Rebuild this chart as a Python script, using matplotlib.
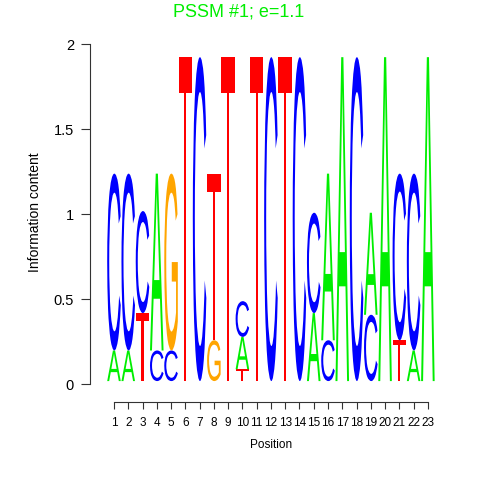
import matplotlib
matplotlib.use('Agg')
import matplotlib.pyplot as plt
import numpy as np
from matplotlib.textpath import TextPath
from matplotlib.font_manager import FontProperties
from matplotlib.patches import PathPatch
from matplotlib.transforms import Affine2D

positions = list(range(1, 24))
A = [0.18, 0.18, 0, 1.04, 0, 0, 0, 0, 0, 0.19, 0, 0, 0, 0, 0.40, 0.98, 1.905, 0, 0.60, 1.905, 0, 0.18, 1.905]
C = [1.04, 1.04, 0.60, 0.18, 0.18, 0, 1.905, 0, 0, 0.21, 0, 1.905, 0, 1.905, 0.59, 0.24, 0, 1.905, 0.39, 0, 0.98, 1.04, 0]
G = [0, 0, 0, 0, 1.04, 0, 0, 0.24, 0, 0, 0, 0, 0, 0, 0, 0, 0, 0, 0, 0, 0, 0, 0]
T = [0, 0, 0.40, 0, 0, 1.905, 0, 0.98, 1.905, 0.07, 1.905, 0, 1.905, 0, 0, 0, 0, 0, 0, 0, 0.24, 0, 0]
ytick_vals = [0, 0.5, 1, 1.5, 2]
ytick_labels = ['0', '0.5', '1', '1.5', '2']

colors = {'A': '#00EE00', 'C': '#0000FF', 'G': '#FFA500', 'T': '#FF0000'}
heights = {'A': A, 'C': C, 'G': G, 'T': T}

font = FontProperties(family='Liberation Sans')
base = 0.02
letter_w = 0.95


def draw_letter(ax, ch, x, y0, h):
    tp = TextPath((0, 0), ch, size=1, prop=font)
    bb = tp.get_extents()
    tr = (Affine2D()
          .translate(-bb.x0, -bb.y0)
          .scale(letter_w / bb.width, h / bb.height)
          .translate(x - letter_w / 2, y0))
    ax.add_patch(PathPatch(tr.transform_path(tp), facecolor=colors[ch],
                           edgecolor='none', lw=0))


plt.rcParams['font.family'] = ['Liberation Sans', 'DejaVu Sans']
fig = plt.figure(figsize=(4.8, 4.8), dpi=100)
ax = fig.add_axes([90 / 480, 78 / 480, 350 / 480, 362 / 480])

for i, pos in enumerate(positions):
    col = sorted([(heights[k][i], k) for k in 'ACGT' if heights[k][i] > 0])
    y = base
    for h, k in col:
        draw_letter(ax, k, pos, y, h)
        y += h

ax.set_xlim(-0.68, 23.85)
ax.set_ylim(-0.103, 2.026)
for s in ['top', 'right']:
    ax.spines[s].set_visible(False)
ax.spines['left'].set_bounds(0, 2)
ax.spines['bottom'].set_bounds(1, 23)
for s in ['left', 'bottom']:
    ax.spines[s].set_color('#333333')
    ax.spines[s].set_linewidth(0.8)

ax.set_xticks(positions)
ax.set_xticklabels([str(p) for p in positions])
ax.set_yticks(ytick_vals)
ax.set_yticklabels(ytick_labels)
ax.tick_params(axis='x', direction='out', length=5, width=0.8,
               color='#333333', labelsize=8.5, pad=6)
ax.tick_params(axis='y', direction='out', length=6.5, width=0.8,
               color='#333333', labelsize=10.5, pad=5)

ax.set_xlabel('Position', fontsize=8.5, va='center')
ax.xaxis.set_label_coords(0.517, -0.119)
ax.set_ylabel('Information content', fontsize=10, va='center')
ax.yaxis.set_label_coords(-0.157, 0.525)
fig.text(0.497, 0.975, 'PSSM #1; e=1.1', color='#00EE00', fontsize=13,
         ha='center', va='center')

fig.savefig('out.png', dpi=100)
